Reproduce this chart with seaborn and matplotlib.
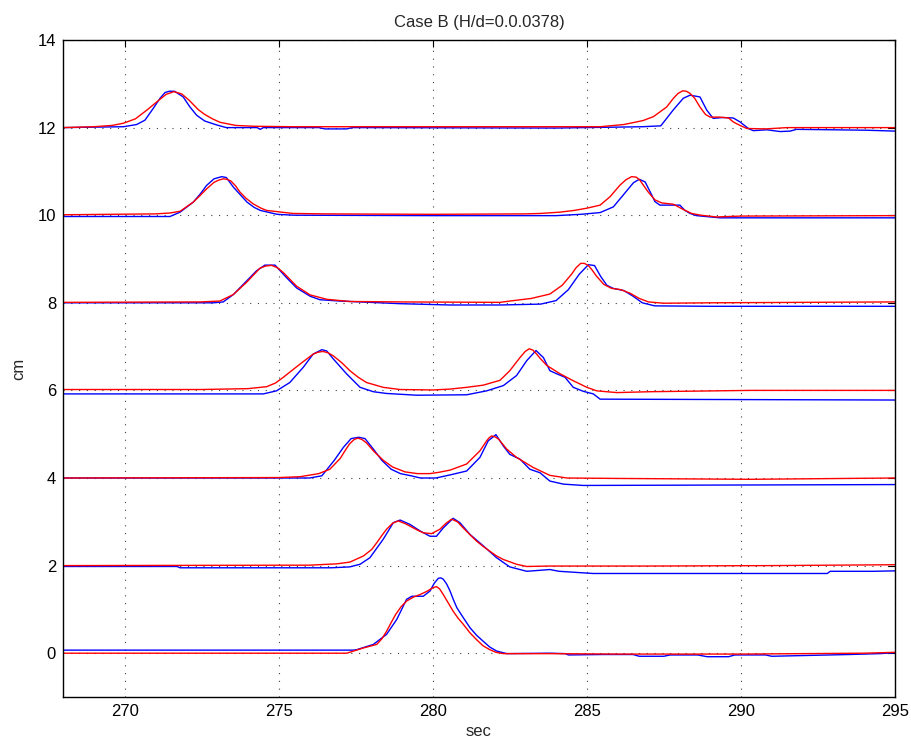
import numpy as np
import matplotlib
matplotlib.use("Agg")
import matplotlib.pyplot as plt
import seaborn as sns

# Vertical offsets (cm) of the stacked gauge records, bottom to top
offsets = [0, 2, 4, 6, 8, 10, 12]

# ---- gauge at offset 0 ----
t_model_g0 = [268, 277.21, 277.75, 278.18, 278.35, 278.5, 278.65, 278.8, 278.97, 279.15, 279.37,
              279.59, 279.8, 280.02, 280.12, 280.22, 280.34, 280.5, 280.66, 280.82, 280.99,
              281.2, 281.42, 281.63, 281.85, 282.05, 282.29, 283.8, 286, 288, 290, 292, 294, 295]
eta_model_g0 = [0.0, 0.0, 0.12, 0.2, 0.33, 0.5, 0.7, 0.89, 1.06, 1.19, 1.28,
                1.34, 1.41, 1.5, 1.52, 1.47, 1.34, 1.15, 0.96, 0.8, 0.66,
                0.47, 0.31, 0.17, 0.08, 0.02, -0.01, -0.01, -0.02, -0.02, -0.02, -0.01, 0.0, 0.02]
t_meas_g0 = [268, 277.42, 277.53, 278.07, 278.5, 278.83, 279.15, 279.32, 279.69, 279.91,
             280.05, 280.18, 280.26, 280.34, 280.45, 280.56, 280.67, 280.78, 281.0, 281.21,
             281.42, 281.64, 281.85, 282.07, 282.4, 283.8, 284.3, 284.4, 285.5, 286.5,
             286.7, 287.5, 287.7, 288.6, 288.9, 289.6, 289.8, 290.8, 291.0, 293.5,
             294.5, 295]
eta_meas_g0 = [0.07, 0.07, 0.08, 0.2, 0.43, 0.77, 1.23, 1.3, 1.3, 1.42,
               1.6, 1.71, 1.72, 1.69, 1.58, 1.42, 1.22, 1.04, 0.8, 0.58,
               0.41, 0.27, 0.14, 0.05, -0.01, 0.0, -0.01, -0.04, -0.03, -0.03,
               -0.07, -0.07, -0.04, -0.04, -0.08, -0.08, -0.04, -0.04, -0.07, -0.03,
               -0.01, 0.01]

# ---- gauge at offset 2 ----
t_model_g2 = [268, 276.0, 276.88, 277.31, 277.75, 278.02, 278.18, 278.34, 278.5, 278.7,
              278.88, 279.1, 279.37, 279.53, 279.69, 279.96, 280.23, 280.42, 280.61, 280.8,
              280.99, 281.2, 281.42, 281.63, 281.85, 282.07, 282.29, 282.72, 283.05, 283.8,
              287, 291, 295]
eta_model_g2 = [0.0, 0.01, 0.04, 0.08, 0.22, 0.37, 0.52, 0.68, 0.83, 0.97,
                1.02, 0.96, 0.86, 0.8, 0.75, 0.73, 0.83, 0.96, 1.06, 1.0,
                0.86, 0.71, 0.56, 0.44, 0.33, 0.22, 0.14, 0.03, -0.02, -0.01,
                -0.01, 0.0, 0.02]
t_meas_g2 = [268, 271.7, 271.8, 276.7, 277.3, 277.64, 277.96, 278.39, 278.72, 278.94, 279.26,
             279.59, 279.91, 280.12, 280.34, 280.66, 280.88, 281.21, 281.64, 282.07, 282.5,
             283.05, 283.8, 284.1, 285.2, 292.8, 292.9, 294.3, 295]
eta_meas_g2 = [-0.02, -0.02, -0.05, -0.05, -0.03, 0.03, 0.18, 0.6, 0.98, 1.04, 0.94,
               0.79, 0.67, 0.67, 0.86, 1.08, 0.98, 0.71, 0.45, 0.18, -0.03,
               -0.13, -0.09, -0.13, -0.18, -0.18, -0.13, -0.13, -0.12]

# ---- gauge at offset 4 ----
t_model_g4 = [268, 275.0, 275.7, 276.3, 276.66, 277.0, 277.15, 277.3, 277.45, 277.57,
              277.7, 277.85, 278.1, 278.4, 278.7, 279.1, 279.5, 279.9, 280.2, 280.56,
              281.1, 281.53, 281.75, 281.83, 281.91, 282.02, 282.13, 282.26, 282.4, 282.72,
              283.26, 283.8, 284.35, 285.97, 290.3, 295]
eta_model_g4 = [0.0, 0.01, 0.03, 0.1, 0.2, 0.45, 0.62, 0.78, 0.88, 0.91,
                0.88, 0.8, 0.6, 0.4, 0.25, 0.14, 0.1, 0.1, 0.13, 0.18,
                0.32, 0.62, 0.85, 0.92, 0.96, 0.94, 0.89, 0.78, 0.66, 0.47,
                0.24, 0.06, 0.0, -0.01, -0.03, 0.0]
t_meas_g4 = [268, 276.0, 276.4, 276.8, 277.1, 277.35, 277.6, 277.8, 278.05, 278.35, 278.65,
             278.95, 279.3, 279.6, 280.1, 280.56, 281.1, 281.53, 281.8, 282.05, 282.29, 282.5,
             282.83, 283.15, 283.48, 283.8, 284.24, 284.88, 295]
eta_meas_g4 = [0.0, 0.0, 0.05, 0.4, 0.7, 0.9, 0.93, 0.9, 0.68, 0.4, 0.2,
               0.1, 0.05, 0.0, 0.0, 0.07, 0.16, 0.47, 0.85, 0.99, 0.73, 0.54,
               0.43, 0.2, 0.12, -0.07, -0.14, -0.17, -0.15]

# ---- gauge at offset 6 ----
t_model_g6 = [268, 272.45, 274.0, 274.61, 274.9, 275.15, 275.69, 276.12, 276.27, 276.43,
              276.6, 276.77, 277.05, 277.31, 277.58, 277.85, 278.39, 278.94, 280.02, 280.56,
              281.1, 281.64, 282.18, 282.5, 282.83, 283.0, 283.13, 283.25, 283.37, 283.5,
              283.7, 284.13, 284.56, 285.0, 285.32, 285.97, 287.05, 290.3, 295]
eta_model_g6 = [0.02, 0.02, 0.04, 0.085, 0.17, 0.3, 0.6, 0.83, 0.87, 0.89,
                0.86, 0.79, 0.63, 0.45, 0.3, 0.18, 0.07, 0.02, 0.01, 0.03,
                0.07, 0.12, 0.23, 0.45, 0.75, 0.89, 0.95, 0.92, 0.83, 0.72,
                0.57, 0.38, 0.22, 0.07, -0.01, -0.05, -0.03, 0.0, 0.0]
t_meas_g6 = [268, 274.5, 274.93, 275.36, 275.8, 276.12, 276.4, 276.56, 276.77, 277.2, 277.64,
             278.07, 278.5, 279.48, 281.1, 281.75, 282.29, 282.72, 283.05, 283.35, 283.59,
             283.8, 284.02, 284.29, 284.56, 284.88, 285.21, 285.43, 295]
eta_meas_g6 = [-0.08, -0.08, -0.01, 0.18, 0.53, 0.83, 0.93, 0.9, 0.72, 0.38, 0.07,
               -0.03, -0.07, -0.11, -0.1, -0.01, 0.11, 0.34, 0.68, 0.91, 0.75,
               0.45, 0.38, 0.3, 0.07, -0.02, -0.08, -0.2, -0.22]

# ---- gauge at offset 8 ----
t_model_g8 = [268, 272.45, 273.09, 273.53, 273.96, 274.39, 274.58, 274.77, 274.96, 275.15,
              275.58, 276.02, 276.56, 277.31, 278.94, 282.18, 282.5, 283.2, 283.8, 284.2,
              284.5, 284.65, 284.8, 284.92, 285.05, 285.17, 285.3, 285.55, 285.8, 286.1,
              286.4, 286.7, 287.0, 287.5, 289, 295]
eta_model_g8 = [0.01, 0.02, 0.04, 0.19, 0.47, 0.79, 0.84, 0.855, 0.8, 0.69,
                0.38, 0.18, 0.08, 0.03, 0.02, 0.01, 0.04, 0.1, 0.2, 0.4,
                0.65, 0.8, 0.9, 0.9, 0.85, 0.75, 0.62, 0.42, 0.33, 0.3,
                0.22, 0.1, 0.02, -0.01, 0.0, 0.02]
t_meas_g8 = [268, 272.88, 273.2, 273.53, 273.85, 274.28, 274.55, 274.88, 275.26, 275.58,
             276.02, 276.34, 276.99, 278.94, 280.56, 282.18, 283.5, 284.0, 284.4, 284.75,
             285.05, 285.25, 285.45, 285.65, 285.85, 286.2, 286.5, 286.8, 287.2, 289, 295]
eta_meas_g8 = [0.0, 0.0, 0.02, 0.19, 0.42, 0.73, 0.86, 0.86, 0.57, 0.34,
               0.15, 0.07, 0.04, -0.02, -0.05, -0.05, -0.03, 0.05, 0.3, 0.65,
               0.87, 0.85, 0.6, 0.4, 0.33, 0.28, 0.15, 0.0, -0.07, -0.08, -0.08]

# ---- gauge at offset 10 ----
t_model_g10 = [268, 271.0, 271.47, 271.8, 272.23, 272.45, 272.66, 272.9, 273.05, 273.2,
               273.32, 273.45, 273.6, 273.74, 273.95, 274.17, 274.4, 274.6, 275.46, 276.5,
               280, 283, 283.5, 284.13, 284.6, 285.0, 285.43, 285.75, 286.08, 286.27,
               286.45, 286.6, 286.72, 286.99, 287.21, 287.43, 287.81, 288.13, 288.4, 288.7,
               289.2, 290, 295]
eta_model_g10 = [0.01, 0.03, 0.05, 0.09, 0.3, 0.45, 0.6, 0.75, 0.8, 0.83,
                 0.82, 0.78, 0.67, 0.53, 0.38, 0.26, 0.17, 0.11, 0.04, 0.03,
                 0.02, 0.03, 0.04, 0.07, 0.11, 0.16, 0.23, 0.42, 0.69, 0.81,
                 0.88, 0.87, 0.8, 0.53, 0.35, 0.28, 0.25, 0.13, 0.04, 0.0,
                 -0.04, -0.02, -0.01]
t_meas_g10 = [268, 271.47, 271.8, 272.23, 272.45, 272.66, 272.9, 273.15, 273.3, 273.53, 273.75,
              273.97, 274.2, 274.4, 274.95, 275.5, 280, 284, 284.8, 285.43, 285.86, 286.18,
              286.51, 286.7, 286.89, 287.05, 287.21, 287.37, 288.02, 288.18, 288.35, 288.56,
              289.32, 295]
eta_meas_g10 = [-0.03, -0.03, 0.07, 0.3, 0.48, 0.68, 0.83, 0.88, 0.86, 0.64, 0.47,
                0.3, 0.18, 0.11, 0.02, 0.0, -0.01, -0.01, 0.02, 0.06, 0.19, 0.46,
                0.74, 0.82, 0.76, 0.54, 0.31, 0.23, 0.23, 0.11, 0.04, -0.01,
                -0.06, -0.06]

# ---- gauge at offset 12 ----
t_model_g12 = [268, 269, 269.6, 269.96, 270.35, 270.74, 271.1, 271.35, 271.6, 271.85,
               272.1, 272.39, 272.6, 272.85, 273.1, 273.6, 274.2, 275.5, 280, 284,
               285.43, 286.2, 286.82, 287.16, 287.59, 287.81, 287.96, 288.11, 288.23, 288.35,
               288.5, 288.67, 288.85, 289.0, 289.3, 289.6, 289.75, 289.97, 290.19, 290.8,
               291.5, 295]
eta_model_g12 = [0.0, 0.02, 0.05, 0.1, 0.2, 0.41, 0.62, 0.76, 0.82, 0.77,
                 0.62, 0.41, 0.3, 0.2, 0.12, 0.05, 0.03, 0.02, 0.02, 0.02,
                 0.02, 0.07, 0.16, 0.25, 0.47, 0.67, 0.78, 0.84, 0.83, 0.78,
                 0.67, 0.47, 0.3, 0.24, 0.24, 0.22, 0.13, 0.05, -0.02, -0.03,
                 0.0, 0.0]
t_meas_g12 = [268, 269.96, 270.39, 270.66, 270.93, 271.15, 271.31, 271.45, 271.62, 271.9,
              272.12, 272.34, 272.6, 272.99, 273.3, 274.3, 274.4, 274.5, 276.3, 276.5,
              277.2, 277.4, 284, 286.8, 287.4, 287.5, 287.8, 288.13, 288.35, 288.67,
              288.89, 289.1, 289.4, 289.75, 289.97, 290.24, 290.4, 290.84, 291.27, 291.6,
              291.8, 293, 294.08, 295]
eta_meas_g12 = [0.0, 0.02, 0.07, 0.17, 0.44, 0.67, 0.8, 0.83, 0.83, 0.7,
                0.47, 0.28, 0.15, 0.06, 0.0, 0.0, -0.04, 0.0, 0.0, -0.03,
                -0.03, 0.0, -0.01, 0.02, 0.04, 0.13, 0.4, 0.67, 0.74, 0.7,
                0.4, 0.21, 0.23, 0.22, 0.13, -0.02, -0.07, -0.05, -0.09, -0.08,
                -0.04, -0.05, -0.06, -0.08]

x_ticks = [270, 275, 280, 285, 290, 295]
y_ticks = [0, 2, 4, 6, 8, 10, 12, 14]

records = [
    (t_model_g0, eta_model_g0, t_meas_g0, eta_meas_g0),
    (t_model_g2, eta_model_g2, t_meas_g2, eta_meas_g2),
    (t_model_g4, eta_model_g4, t_meas_g4, eta_meas_g4),
    (t_model_g6, eta_model_g6, t_meas_g6, eta_meas_g6),
    (t_model_g8, eta_model_g8, t_meas_g8, eta_meas_g8),
    (t_model_g10, eta_model_g10, t_meas_g10, eta_meas_g10),
    (t_model_g12, eta_model_g12, t_meas_g12, eta_meas_g12),
]

sns.set_style("white")
plt.rcParams["font.family"] = ["Liberation Sans", "DejaVu Sans"]

fig = plt.figure(figsize=(9.12, 7.47), dpi=100)
ax = fig.add_axes([63 / 912, 50 / 747, 832 / 912, 657 / 747])

# measured record (blue) under the model result (red), each lifted by its offset
for off, (tm, em, tg, eg) in zip(offsets, records):
    sns.lineplot(x=tg, y=np.asarray(eg) + off, color=(0, 0, 1), lw=1.0,
                 estimator=None, sort=False, ax=ax)
    sns.lineplot(x=tm, y=np.asarray(em) + off, color=(1, 0, 0), lw=1.0,
                 estimator=None, sort=False, ax=ax)

ax.set_xlim(268, 295)
ax.set_ylim(-1, 14)
ax.set_xticks(x_ticks)
ax.set_yticks(y_ticks)
ax.grid(True, color="0.25", linestyle=(0, (1, 6)), lw=0.8)
ax.tick_params(direction="in", top=True, right=True, length=5, width=0.8,
               labelsize=12, pad=5, colors="black")
for s in ax.spines.values():
    s.set_linewidth(1.0)
    s.set_color("black")

ax.set_title("Case B (H/d=0.0.0378)", fontsize=12, pad=9)
ax.set_xlabel("sec", fontsize=12)
ax.set_ylabel("cm", fontsize=12, labelpad=8)

fig.savefig("out.png", dpi=100)
